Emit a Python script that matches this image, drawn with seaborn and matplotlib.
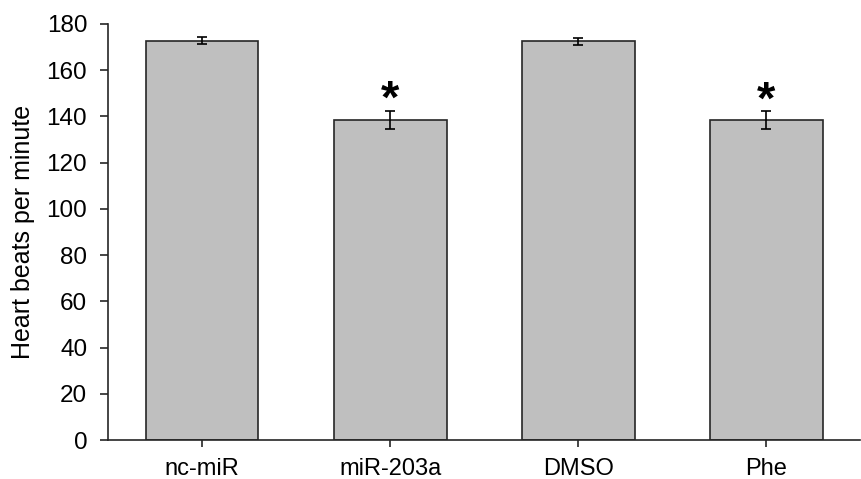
import pandas as pd
import seaborn as sns
import matplotlib.pyplot as plt

groups = ["nc-miR", "miR-203a", "DMSO", "Phe"]
bpm = [172.8, 138.5, 172.5, 138.5]
sem = [1.4, 4.0, 1.5, 3.8]
signif = [False, True, False, True]

df = pd.DataFrame({"group": groups, "bpm": bpm, "sem": sem})

sns.set_style("ticks")
plt.rcParams['font.family'] = ['Liberation Sans', 'DejaVu Sans']
plt.rcParams['text.color'] = 'black'
plt.rcParams['axes.labelcolor'] = 'black'
plt.rcParams['xtick.color'] = 'black'
plt.rcParams['ytick.color'] = 'black'

fig = plt.figure(figsize=(8.61, 4.79), dpi=100)
ax = fig.add_axes([0.1254, 0.0814, 0.874, 0.8685])

sns.barplot(x="group", y="bpm", data=df, color="#bfbfbf", edgecolor="#262626",
            linewidth=1.2, width=0.6, saturation=1, errorbar=None, ax=ax)
ax.errorbar(range(len(groups)), df["bpm"], yerr=df["sem"], fmt="none",
            ecolor="black", elinewidth=1.2, capsize=3.3, capthick=1.2)

# significance stars
for i, s in enumerate(signif):
    if s:
        ax.text(i, bpm[i] + sem[i] + 4.2, "*", ha="center", va="center",
                fontsize=34, fontweight="bold")

ax.set_ylim(0, 180)
ax.set_xlim(-0.5, 3.5)
ax.set_yticks(range(0, 181, 20))
ax.set_xlabel("")
ax.set_ylabel("Heart beats per minute", fontsize=18, labelpad=8)
ax.tick_params(axis="y", labelsize=17.5, length=6, width=1.2, color="#262626", pad=9)
ax.tick_params(axis="x", labelsize=17, length=5, width=1.2, color="#262626", pad=8)
sns.despine(ax=ax)
for sp in ["left", "bottom"]:
    ax.spines[sp].set_linewidth(1.2)
    ax.spines[sp].set_color("#262626")

fig.savefig("out.png", dpi=100)
